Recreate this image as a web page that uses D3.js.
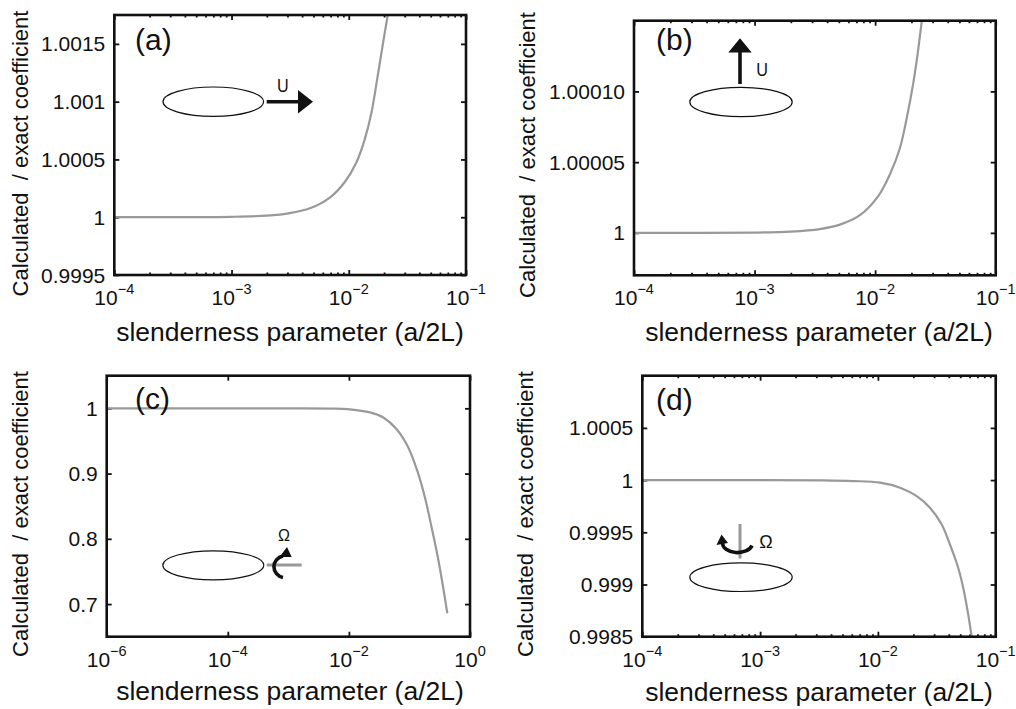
<!DOCTYPE html>
<html>
<head>
<meta charset="utf-8">
<script src="https://d3js.org/d3.v7.min.js"></script>
<style>
  html, body { margin: 0; padding: 0; background: #ffffff; }
  svg { display: block; }
  text { font-family: "Liberation Sans", Arial, Helvetica, sans-serif; fill: #111111; }
</style>
</head>
<body>
<script>
// ---- data ----------------------------------------------------------------
// (a) translation along the axis
const xA = [1e-4, 3e-4, 1e-3, 2e-3, 3.15e-3, 4.66e-3, 6.89e-3, 9.25e-3, 0.01164, 0.0137, 0.01563, 0.01746, 0.0194, 0.0215];
const yA = [1.0, 1.0000003, 1.0000035, 1.000014, 1.000036, 1.000077, 1.00017, 1.000305, 1.000476, 1.000676, 1.000906, 1.001193, 1.00148, 1.00175];
// (b) translation across the axis
const xB = [1e-4, 1e-3, 2e-3, 3.48e-3, 5.1e-3, 7.48e-3, 0.0106, 0.01327, 0.01604, 0.01845, 0.0207, 0.0225, 0.0244];
const yB = [1.0, 1.0000002, 1.0000009, 1.0000027, 1.0000058, 1.0000125, 1.000026, 1.0000414, 1.0000598, 1.0000828, 1.0001057, 1.0001264, 1.00015];
// (c) rotation about the short axis
const xC = [1e-6, 1e-4, 1e-3, 4.88e-3, 0.0104, 0.0223, 0.037, 0.0615, 0.0957, 0.1349, 0.1807, 0.2329, 0.2884, 0.354, 0.4217];
const yC = [1.0, 1.0, 0.99999, 0.99967, 0.9985, 0.9938, 0.986, 0.968, 0.94, 0.904, 0.863, 0.817, 0.776, 0.730, 0.686];
// (d) rotation about the long axis
const xD = [1e-4, 1e-3, 3.23e-3, 6.18e-3, 0.01042, 0.01542, 0.02135, 0.02768, 0.03481, 0.04093, 0.0472, 0.0531, 0.0585, 0.0625];
const yD = [1.0, 1.0, 0.9999976, 0.999991, 0.999975, 0.999927, 0.999846, 0.999735, 0.999574, 0.999382, 0.999189, 0.998965, 0.998709, 0.9985];

// tick values and labels
const yTicksA = [0.9995, 1, 1.0005, 1.001, 1.0015];
const yLabelsA = ["0.9995", "1", "1.0005", "1.001", "1.0015"];
const yTicksB = [1, 1.00005, 1.0001];
const yLabelsB = ["1", "1.00005", "1.00010"];
const yTicksC = [0.7, 0.8, 0.9, 1];
const yLabelsC = ["0.7", "0.8", "0.9", "1"];
const yTicksD = [0.9985, 0.999, 0.9995, 1, 1.0005];
const yLabelsD = ["0.9985", "0.999", "0.9995", "1", "1.0005"];
const xExpABD = [-4, -3, -2, -1];
const xExpC = [-6, -4, -2, 0];

const xTitle = "slenderness parameter (a/2L)";
const yTitle = "Calculated  / exact coefficient";

// ---- layout --------------------------------------------------------------
const W = 1016, H = 709;
const FONT_TICK = 21, FONT_EXP = 14.5, FONT_XT = 26.5, FONT_YT = 22, FONT_TAG = 30;

const panels = [
  { key: "a", box: [114.3, 15, 466, 275], xDom: [1e-4, 1e-1], yDom: [0.9995, 1.00175],
    xs: xA, ys: yA, yT: yTicksA, yL: yLabelsA, xE: xExpABD, minor: true,
    yTitleX: 28, yTitleC: 153.5, xTitleC: 290, xTitleY: 341, tag: "(a)", tagX: 135, tagY: 50 },
  { key: "b", box: [634, 20.7, 995.7, 275.3], xDom: [1e-4, 1e-1], yDom: [0.99997, 1.00015],
    xs: xB, ys: yB, yT: yTicksB, yL: yLabelsB, xE: xExpABD, minor: true,
    yTitleX: 535, yTitleC: 155, xTitleC: 819, xTitleY: 341, tag: "(b)", tagX: 656, tagY: 50 },
  { key: "c", box: [106.7, 375.7, 470, 636.7], xDom: [1e-6, 1], yDom: [0.65, 1.05],
    xs: xC, ys: yC, yT: yTicksC, yL: yLabelsC, xE: xExpC, minor: false,
    yTitleX: 28, yTitleC: 514, xTitleC: 290, xTitleY: 700, tag: "(c)", tagX: 135, tagY: 409 },
  { key: "d", box: [642.3, 375.7, 995.7, 636.7], xDom: [1e-4, 1e-1], yDom: [0.9985, 1.001],
    xs: xD, ys: yD, yT: yTicksD, yL: yLabelsD, xE: xExpABD, minor: true,
    yTitleX: 533, yTitleC: 514, xTitleC: 819, xTitleY: 700.5, tag: "(d)", tagX: 656, tagY: 410 }
];

const svg = d3.select("body").append("svg").attr("width", W).attr("height", H);
svg.append("rect").attr("width", W).attr("height", H).attr("fill", "#fff");

const defs = svg.append("defs");

panels.forEach(p => {
  const [x0, y0, x1, y1] = p.box;
  const x = d3.scaleLog().domain(p.xDom).range([x0, x1]);
  const y = d3.scaleLinear().domain(p.yDom).range([y1, y0]);
  const g = svg.append("g").attr("class", "panel-" + p.key);

  // clip for the curve
  defs.append("clipPath").attr("id", "clip-" + p.key)
    .append("rect").attr("x", x0).attr("y", y0).attr("width", x1 - x0).attr("height", y1 - y0);

  // major / minor tick values on the log axis
  const majors = p.xE.map(e => Math.pow(10, e));
  const minors = [];
  if (p.minor) {
    for (let e = p.xE[0]; e < p.xE[p.xE.length - 1]; e++) {
      for (let m = 2; m <= 9; m++) minors.push(m * Math.pow(10, e));
    }
  }

  const tickStyle = sel => {
    sel.select(".domain").remove();
    sel.selectAll(".tick line").attr("stroke", "#111").attr("stroke-width", 1.8);
    sel.selectAll(".tick text").remove();
  };

  // x ticks, bottom and top, pointing inward
  g.append("g").attr("transform", `translate(0,${y1})`)
    .call(d3.axisBottom(x).tickValues(majors).tickSizeInner(-5).tickSizeOuter(0).tickFormat(""))
    .call(tickStyle);
  g.append("g").attr("transform", `translate(0,${y0})`)
    .call(d3.axisTop(x).tickValues(majors).tickSizeInner(-5).tickSizeOuter(0).tickFormat(""))
    .call(tickStyle);
  if (minors.length) {
    g.append("g").attr("transform", `translate(0,${y1})`)
      .call(d3.axisBottom(x).tickValues(minors).tickSizeInner(-2.5).tickSizeOuter(0).tickFormat(""))
      .call(tickStyle);
    g.append("g").attr("transform", `translate(0,${y0})`)
      .call(d3.axisTop(x).tickValues(minors).tickSizeInner(-2.5).tickSizeOuter(0).tickFormat(""))
      .call(tickStyle);
  }
  // y ticks, left and right
  g.append("g").attr("transform", `translate(${x0},0)`)
    .call(d3.axisLeft(y).tickValues(p.yT).tickSizeInner(-5).tickSizeOuter(0).tickFormat(""))
    .call(tickStyle);
  g.append("g").attr("transform", `translate(${x1},0)`)
    .call(d3.axisRight(y).tickValues(p.yT).tickSizeInner(-5).tickSizeOuter(0).tickFormat(""))
    .call(tickStyle);

  // curve
  const line = d3.line().x(d => x(d[0])).y(d => y(d[1])).curve(d3.curveCatmullRom.alpha(0.5));
  g.append("path")
    .datum(p.xs.map((v, i) => [v, p.ys[i]]))
    .attr("clip-path", `url(#clip-${p.key})`)
    .attr("d", line)
    .attr("fill", "none")
    .attr("stroke", "#999999")
    .attr("stroke-width", 2.2);

  // frame
  g.append("rect")
    .attr("x", x0).attr("y", y0).attr("width", x1 - x0).attr("height", y1 - y0)
    .attr("fill", "none").attr("stroke", "#111").attr("stroke-width", 2.6);

  // y tick labels
  g.selectAll(".ylab").data(p.yT).enter().append("text")
    .attr("x", x0 - 9).attr("y", d => y(d)).attr("dy", "0.36em")
    .attr("text-anchor", "end").attr("font-size", FONT_TICK)
    .text((d, i) => p.yL[i]);

  // x tick labels: 10 with a raised exponent
  const xl = g.selectAll(".xlab").data(p.xE).enter().append("text")
    .attr("x", e => x(Math.pow(10, e))).attr("y", y1 + 30)
    .attr("text-anchor", "middle").attr("font-size", FONT_TICK);
  xl.append("tspan").text("10");
  xl.append("tspan").attr("dy", -11).attr("font-size", FONT_EXP)
    .text(e => (e < 0 ? "\u2212" + Math.abs(e) : String(e)));

  // axis titles
  g.append("text").attr("x", p.xTitleC).attr("y", p.xTitleY)
    .attr("text-anchor", "middle").attr("font-size", FONT_XT).text(xTitle);
  g.append("text")
    .attr("transform", `translate(${p.yTitleX},${p.yTitleC}) rotate(-90)`)
    .attr("text-anchor", "middle").attr("font-size", FONT_YT)
    .style("white-space", "pre").text(yTitle);

  // panel tag
  g.append("text").attr("x", p.tagX).attr("y", p.tagY)
    .attr("font-size", FONT_TAG).text(p.tag);
});

// ---- body sketches -------------------------------------------------------
const ink = "#111111", rodGray = "#999999";
function body(cx, cy, rx, ry) {
  svg.append("ellipse").attr("cx", cx).attr("cy", cy).attr("rx", rx).attr("ry", ry)
    .attr("fill", "none").attr("stroke", ink).attr("stroke-width", 1.2);
}
function label(txt, x, y, size, sx) {
  svg.append("text").attr("transform", `translate(${x},${y}) scale(${sx},1)`)
    .attr("text-anchor", "middle").attr("font-size", size).text(txt);
}

// (a) body moving along its axis
body(213.3, 101.7, 50.3, 14.7);
svg.append("line").attr("x1", 266.7).attr("y1", 101.7).attr("x2", 300).attr("y2", 101.7)
  .attr("stroke", ink).attr("stroke-width", 3.6);
svg.append("path").attr("d", "M298,90 L313,101.7 L298,113.4 Z").attr("fill", ink);
label("U", 282.7, 91.7, 19, 0.85);

// (b) body moving sideways
body(741, 102, 51.2, 14.7);
svg.append("line").attr("x1", 740).attr("y1", 84).attr("x2", 740).attr("y2", 51)
  .attr("stroke", ink).attr("stroke-width", 3.6);
svg.append("path").attr("d", "M728.3,52.5 L740,38.3 L751.7,52.5 Z").attr("fill", ink);
label("U", 762, 76, 19, 0.85);

// (c) rotation about a transverse axis
body(213.3, 565.3, 50.5, 14.5);
svg.append("line").attr("x1", 266.7).attr("y1", 565).attr("x2", 301.7).attr("y2", 565)
  .attr("stroke", rodGray).attr("stroke-width", 3);
svg.append("path").attr("d", "M283,577.5 A11.5,11 0 0 1 283,556")
  .attr("fill", "none").attr("stroke", ink).attr("stroke-width", 3.6);
svg.append("path").attr("d", "M279.5,557 L291.7,557 L287,547 Z").attr("fill", ink);
label("\u03A9", 284, 540.7, 16, 1);

// (d) rotation about the long axis
body(741, 577.2, 51.2, 14.3);
svg.append("line").attr("x1", 740).attr("y1", 524).attr("x2", 740).attr("y2", 558.5)
  .attr("stroke", rodGray).attr("stroke-width", 3);
svg.append("path").attr("d", "M752,545.5 A15,9.5 0 0 1 722.5,543")
  .attr("fill", "none").attr("stroke", ink).attr("stroke-width", 3.6);
svg.append("path").attr("d", "M716.5,545 L728,543 L721.5,534.5 Z").attr("fill", ink);
label("\u03A9", 766, 548, 18, 1);
</script>
</body>
</html>
